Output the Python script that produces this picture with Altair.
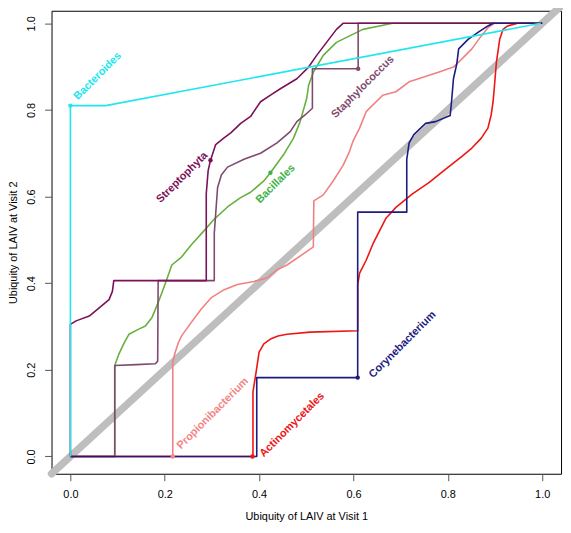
import altair as alt
import pandas as pd

FONT = "Liberation Sans, Arial, Helvetica, sans-serif"

# ---- curve data ----
bacteroides_x = [0, 0, 0.075, 0.997]
bacteroides_y = [0, 0.81, 0.81, 1.0]

streptophyta_x = [0, 0, 0.012, 0.04, 0.061, 0.082, 0.089, 0.092, 0.288, 0.288, 0.292, 0.297, 0.308, 0.325,
                  0.34, 0.361, 0.382, 0.403, 0.425, 0.445, 0.48, 0.505, 0.522, 0.543, 0.564, 0.578, 1.0]
streptophyta_y = [0, 0.305, 0.313, 0.324, 0.343, 0.362, 0.381, 0.406, 0.406, 0.607, 0.66, 0.684, 0.72, 0.735,
                  0.747, 0.769, 0.785, 0.819, 0.835, 0.849, 0.872, 0.899, 0.926, 0.956, 0.986, 1.0, 1.0]

staphylococcus_x = [0, 0.094, 0.094, 0.14, 0.18, 0.185, 0.186, 0.305, 0.305, 0.312, 0.32, 0.333, 0.368, 0.403,
                    0.438, 0.466, 0.48, 0.498, 0.513, 0.513, 0.61, 0.61, 1.0]
staphylococcus_y = [0, 0, 0.21, 0.212, 0.214, 0.22, 0.406, 0.406, 0.515, 0.621, 0.65, 0.668, 0.686, 0.70,
                    0.724, 0.75, 0.773, 0.789, 0.804, 0.895, 0.895, 1.0, 1.0]

bacillales_x = [0, 0.094, 0.094, 0.103, 0.114, 0.124, 0.145, 0.159, 0.173, 0.183, 0.194, 0.204, 0.215, 0.236,
                0.256, 0.284, 0.305, 0.333, 0.36, 0.382, 0.41, 0.424, 0.452, 0.473, 0.487, 0.501, 0.505,
                0.515, 0.536, 0.564, 0.592, 0.62, 0.655, 0.683, 1.0]
bacillales_y = [0, 0, 0.21, 0.237, 0.262, 0.282, 0.294, 0.301, 0.321, 0.347, 0.378, 0.408, 0.442, 0.461,
                0.488, 0.522, 0.548, 0.576, 0.597, 0.61, 0.636, 0.655, 0.697, 0.735, 0.773, 0.827, 0.857,
                0.887, 0.926, 0.956, 0.971, 0.986, 0.994, 1.0, 1.0]

propionibacterium_x = [0, 0.217, 0.217, 0.222, 0.229, 0.236, 0.256, 0.277, 0.298, 0.326, 0.354, 0.389, 0.417,
                       0.438, 0.459, 0.49, 0.515, 0.516, 0.536, 0.557, 0.578, 0.592, 0.599, 0.613, 0.627,
                       0.662, 0.69, 0.718, 0.78, 0.812, 0.83, 0.851, 0.871, 0.885, 0.899, 1.0]
propionibacterium_y = [0, 0, 0.218, 0.24, 0.263, 0.279, 0.309, 0.34, 0.366, 0.385, 0.397, 0.404, 0.412,
                       0.431, 0.442, 0.465, 0.484, 0.59, 0.604, 0.636, 0.672, 0.705, 0.728, 0.758, 0.796,
                       0.834, 0.842, 0.865, 0.887, 0.899, 0.918, 0.941, 0.971, 0.99, 1.0, 1.0]

actinomycetales_x = [0, 0.387, 0.387, 0.393, 0.4, 0.41, 0.424, 0.44, 0.459, 0.508, 0.609, 0.609, 0.613, 0.627,
                     0.641, 0.669, 0.69, 0.725, 0.76, 0.795, 0.83, 0.851, 0.871, 0.885, 0.892, 0.896, 0.899,
                     0.903, 0.91, 0.917, 0.927, 0.948, 1.0]
actinomycetales_y = [0, 0, 0.149, 0.19, 0.241, 0.26, 0.271, 0.278, 0.282, 0.287, 0.29, 0.396, 0.423, 0.453,
                     0.49, 0.55, 0.575, 0.606, 0.632, 0.663, 0.693, 0.712, 0.735, 0.758, 0.789, 0.819, 0.857,
                     0.91, 0.963, 0.986, 0.994, 1.0, 1.0]

corynebacterium_x = [0, 0.395, 0.395, 0.609, 0.609, 0.713, 0.713, 0.718, 0.728, 0.753, 0.774, 0.805, 0.808,
                     0.812, 0.819, 0.823, 0.843, 0.864, 0.885, 0.896, 1.0]
corynebacterium_y = [0, 0, 0.182, 0.182, 0.564, 0.564, 0.686, 0.724, 0.743, 0.769, 0.773, 0.787, 0.82,
                     0.872, 0.906, 0.941, 0.963, 0.979, 0.994, 1.0, 1.0]

# drawing order (first = bottom)
series = [
    ("Bacillales", bacillales_x, bacillales_y, "#66B03E"),
    ("Staphylococcus", staphylococcus_x, staphylococcus_y, "#7F4A6F"),
    ("Streptophyta", streptophyta_x, streptophyta_y, "#7B1158"),
    ("Propionibacterium", propionibacterium_x, propionibacterium_y, "#F28080"),
    ("Actinomycetales", actinomycetales_x, actinomycetales_y, "#EE1515"),
    ("Corynebacterium", corynebacterium_x, corynebacterium_y, "#1C1C80"),
    ("Bacteroides", bacteroides_x, bacteroides_y, "#22E6EE"),
]

# label anchors (centre of rotated text) and marker points
label_names = ["Bacteroides", "Streptophyta", "Bacillales", "Staphylococcus",
               "Propionibacterium", "Actinomycetales", "Corynebacterium"]
label_x = [0.058, 0.237, 0.435, 0.62, 0.302, 0.47, 0.704]
label_y = [0.878, 0.644, 0.629, 0.853, 0.099, 0.073, 0.258]
marker_x = [0.0, 0.297, 0.424, 0.61, 0.217, 0.386, 0.609]
marker_y = [0.81, 0.684, 0.655, 0.895, 0.0, 0.0, 0.182]
label_colors = ["#22E6EE", "#7B1158", "#3FB34A", "#7F4A6F", "#F48585", "#EE1515", "#1C1C80"]

diag_x = [-0.04, 1.04]
diag_y = [-0.04, 1.04]

tick_values = [0.0, 0.2, 0.4, 0.6, 0.8, 1.0]

W, H = 515, 468

xscale = alt.Scale(domain=[-0.04, 1.04], nice=False, zero=False)
yscale = alt.Scale(domain=[-0.04, 1.029], nice=False, zero=False)

xaxis = alt.Axis(values=tick_values, format=".1f", title="Ubiquity of LAIV at Visit 1",
                 titleX=W / 2, titleY=43, titleBaseline="middle", titleAlign="center",
                 labelPadding=8, tickSize=7)
yaxis = alt.Axis(values=tick_values, format=".1f", title="Ubiquity of LAIV at Visit 2",
                 labelAngle=270, labelAlign="center", labelBaseline="bottom",
                 titleAngle=270, titleX=-38, titleY=H / 2, titleBaseline="middle", titleAlign="center",
                 labelPadding=8, tickSize=7)


def X(field="x"):
    return alt.X(f"{field}:Q", scale=xscale, axis=xaxis)


def Y(field="y"):
    return alt.Y(f"{field}:Q", scale=yscale, axis=yaxis)


layers = []
diag_df = pd.DataFrame({"x": diag_x, "y": diag_y})
layers.append(
    alt.Chart(diag_df).mark_line(color="#BEBEBE", strokeWidth=7.5, strokeCap="round", clip=False)
    .encode(x=X(), y=Y())
)

for name, xs, ys, col in series:
    df = pd.DataFrame({"x": xs, "y": ys, "i": list(range(len(xs)))})
    layers.append(
        alt.Chart(df).mark_line(color=col, strokeWidth=1.6, clip=False, strokeJoin="round")
        .encode(x=X(), y=Y(), order=alt.Order("i:Q"))
    )

mk_df = pd.DataFrame({"x": marker_x, "y": marker_y, "name": label_names})
layers.append(
    alt.Chart(mk_df).mark_point(filled=True, size=20, opacity=1, clip=False)
    .encode(x=X(), y=Y(),
            color=alt.Color("name:N", scale=alt.Scale(domain=label_names, range=label_colors), legend=None))
)

lb_df = pd.DataFrame({"x": label_x, "y": label_y, "name": label_names})
layers.append(
    alt.Chart(lb_df).mark_text(angle=315, align="center", baseline="middle", font=FONT,
                               fontSize=11, fontWeight="bold", clip=False)
    .encode(x=X(), y=Y(), text="name:N",
            color=alt.Color("name:N", scale=alt.Scale(domain=label_names, range=label_colors), legend=None))
)

chart = alt.layer(*layers).properties(
    width=W, height=H,
    autosize="none",
    padding={"left": 44, "top": 0, "right": 2, "bottom": 49},
).configure_view(
    stroke="black", strokeWidth=1
).configure_axis(
    domain=False, grid=False, tickColor="#555555", tickWidth=1,
    labelFont=FONT, labelFontSize=11, labelColor="black",
    titleFont=FONT, titleFontSize=11, titleFontWeight="normal", titleColor="black",
)

chart.save("out.html", embed_options={"renderer": "svg", "actions": False})
